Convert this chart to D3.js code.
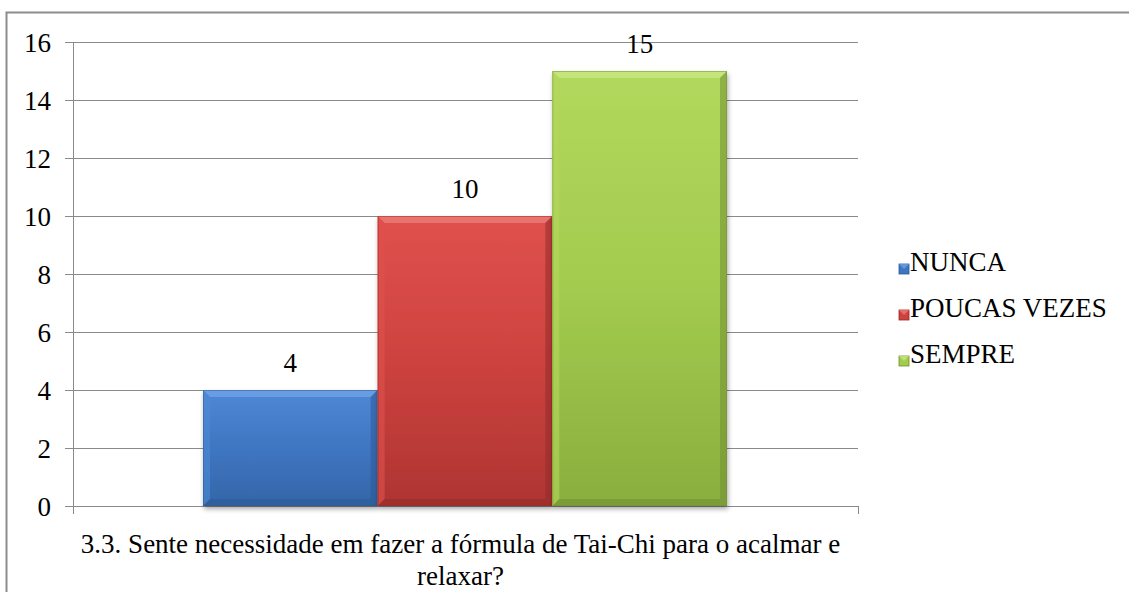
<!DOCTYPE html>
<html>
<head>
<meta charset="utf-8">
<script src="https://cdn.jsdelivr.net/npm/d3@7"></script>
<style>
  html, body { margin: 0; padding: 0; background: #fff; }
  svg { display: block; }
</style>
</head>
<body>
<svg id="chart" width="1129" height="592"></svg>
<script>
// Survey answers for question 3.3
const categories = ["NUNCA", "POUCAS VEZES", "SEMPRE"];
const values = [4, 10, 15];
const yTicks = [0, 2, 4, 6, 8, 10, 12, 14, 16];
const axisTitleLines = [
  "3.3. Sente necessidade em fazer a fórmula de Tai-Chi para o acalmar e",
  "relaxar?"
];
const palette = [
  { top: "#4f88d6", mid: "#3f76c2", bot: "#3466a8", light: "#6fa0e4", dark: "#2c5a96" },
  { top: "#e0514d", mid: "#cd423f", bot: "#ae3532", light: "#ea7a76", dark: "#922c2a" },
  { top: "#b2d85c", mid: "#a3cb4e", bot: "#8aae3e", light: "#c8e680", dark: "#718f32" }
];
const FONT = "'Liberation Serif'";
const FS = "27px";

const svg = d3.select("#chart");
const defs = svg.append("defs");

// outer frame
svg.append("rect")
  .attr("x", 6.5).attr("y", 12.5)
  .attr("width", 1140).attr("height", 600)
  .attr("fill", "none").attr("stroke", "#8c8c8c").attr("stroke-width", 2);

const plot = { left: 73, right: 858, top: 42, bottom: 506 };

const y = d3.scaleLinear().domain([0, 16]).range([plot.bottom, plot.top]);
const xGroup = d3.scaleBand().domain(["q"]).range([plot.left, plot.right]).paddingInner(0).paddingOuter(0);
const xBar = d3.scaleBand().domain(categories)
  .range([203, 727]).padding(0);

// gridlines
svg.append("g")
  .selectAll("line").data(yTicks).join("line")
  .attr("x1", plot.left - 8).attr("x2", plot.right)
  .attr("y1", d => Math.round(y(d)) + 0.5).attr("y2", d => Math.round(y(d)) + 0.5)
  .attr("stroke", "#8a8a8a").attr("stroke-width", 1);

// y axis
const yAxis = d3.axisLeft(y).tickValues(yTicks).tickSize(0).tickPadding(22);
const gy = svg.append("g").attr("transform", `translate(${plot.left},0)`).call(yAxis);
gy.select(".domain").remove();
gy.selectAll("text")
  .style("font-family", FONT).style("font-size", FS)
  .attr("fill", "#000")
  .attr("dy", "0.35em");

svg.append("line")
  .attr("x1", plot.left + 0.5).attr("x2", plot.left + 0.5)
  .attr("y1", plot.top).attr("y2", plot.bottom + 8)
  .attr("stroke", "#8a8a8a");
svg.append("line")
  .attr("x1", plot.right + 0.5).attr("x2", plot.right + 0.5)
  .attr("y1", plot.bottom).attr("y2", plot.bottom + 8)
  .attr("stroke", "#8a8a8a");

// gradients
palette.forEach((p, i) => {
  const g = defs.append("linearGradient").attr("id", "fill" + i)
    .attr("x1", 0).attr("y1", 0).attr("x2", 0).attr("y2", 1);
  g.append("stop").attr("offset", "0%").attr("stop-color", p.top);
  g.append("stop").attr("offset", "50%").attr("stop-color", p.mid);
  g.append("stop").attr("offset", "100%").attr("stop-color", p.bot);
});
const shadow = defs.append("filter").attr("id", "shadow")
  .attr("x", "-10%").attr("y", "-10%").attr("width", "120%").attr("height", "130%");
shadow.append("feGaussianBlur").attr("in", "SourceAlpha").attr("stdDeviation", 2.5);
shadow.append("feOffset").attr("dx", 1).attr("dy", 3).attr("result", "b");
shadow.append("feComponentTransfer").append("feFuncA").attr("type", "linear").attr("slope", 0.35);
const m = shadow.append("feMerge");
m.append("feMergeNode");
m.append("feMergeNode").attr("in", "SourceGraphic");

// bars with bevelled edges
const bev = 7;
const bars = svg.append("g").selectAll("g").data(categories).join("g");
bars.each(function(c, i) {
  const g = d3.select(this);
  const x0 = xBar(c), x1 = x0 + xBar.bandwidth();
  const y0 = y(values[i]), y1 = y(0);
  const p = palette[i];
  g.append("rect").attr("x", x0).attr("y", y0).attr("width", x1 - x0).attr("height", y1 - y0)
    .attr("fill", `url(#fill${i})`).attr("filter", "url(#shadow)");
  g.append("path").attr("d", `M${x0},${y0}L${x1},${y0}L${x1 - bev},${y0 + bev}L${x0 + bev},${y0 + bev}Z`)
    .attr("fill", p.light).attr("opacity", 0.85);
  g.append("path").attr("d", `M${x0},${y0}L${x0 + bev},${y0 + bev}L${x0 + bev},${y1 - bev}L${x0},${y1}Z`)
    .attr("fill", p.top).attr("opacity", 0.6);
  g.append("path").attr("d", `M${x1},${y0}L${x1},${y1}L${x1 - bev},${y1 - bev}L${x1 - bev},${y0 + bev}Z`)
    .attr("fill", p.dark).attr("opacity", 0.55);
  g.append("path").attr("d", `M${x0},${y1}L${x1},${y1}L${x1 - bev},${y1 - bev}L${x0 + bev},${y1 - bev}Z`)
    .attr("fill", p.dark).attr("opacity", 0.6);
  g.append("rect").attr("x", x0 + 0.5).attr("y", y0 + 0.5).attr("width", x1 - x0 - 1).attr("height", y1 - y0 - 1)
    .attr("fill", "none").attr("stroke", p.dark).attr("stroke-opacity", 0.5);
  g.append("text").attr("x", (x0 + x1) / 2).attr("y", y0 - 18)
    .attr("text-anchor", "middle")
    .style("font-family", FONT).style("font-size", FS)
    .attr("fill", "#000")
    .text(values[i]);
});

// category axis title
const tx = svg.append("text").attr("text-anchor", "middle")
  .style("font-family", FONT).style("font-size", FS).attr("fill", "#000");
axisTitleLines.forEach((t, i) => {
  tx.append("tspan").attr("x", xGroup("q") + xGroup.bandwidth() / 2 - 5).attr("y", 553 + i * 32).text(t);
});

// legend
const lg = svg.append("g").attr("transform", "translate(899,0)");
const ly = [262, 308, 354];
categories.forEach((c, i) => {
  const p = palette[i];
  const sy = ly[i] + 2;
  lg.append("rect").attr("x", 0).attr("y", sy).attr("width", 10).attr("height", 10)
    .attr("fill", p.mid).attr("stroke", p.dark).attr("stroke-width", 0.8);
  lg.append("path").attr("d", `M0,${sy}L10,${sy}L5,${sy + 5}Z`).attr("fill", p.light).attr("opacity", 0.8);
  lg.append("text").attr("x", 11).attr("y", ly[i]).attr("dy", "0.35em")
    .style("font-family", FONT).style("font-size", FS)
    .attr("fill", "#000").text(c);
});
</script>
</body>
</html>
